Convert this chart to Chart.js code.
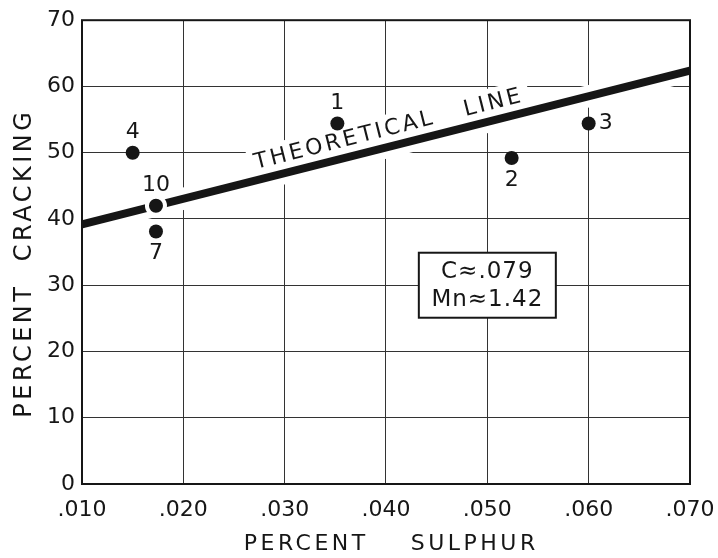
<!DOCTYPE html>
<html>
<head>
<meta charset="utf-8">
<script src="https://cdn.jsdelivr.net/npm/chart.js@4.4.1/dist/chart.umd.min.js"></script>
<style>
  html, body { margin: 0; padding: 0; background: #fff; }
</style>
</head>
<body>
<canvas id="chart" width="718" height="558"></canvas>
<script>
// sample points
const sampleNos = ['1', '2', '3', '4', '7', '10'];
const sulphur = [0.0352, 0.0524, 0.0600, 0.0150, 0.0173, 0.0173];
const cracking = [54.4, 49.2, 54.4, 50.0, 38.1, 42.0];

// theoretical line end points
const lineSulphur = [0.010, 0.070];
const lineCracking = [39.2, 62.4];

const xMin = 0.010, xMax = 0.070, xStep = 0.010;
const yMin = 0, yMax = 70, yStep = 10;
const noteLines = ['C\u2248.079', 'Mn\u22481.42'];
const noteAt = { x: 0.050, y: 30 };
const lineTextAt = 0.0407;
const lineText = 'THEORETICAL   LINE';

const ink = '#161616';
const face = '"DejaVu Sans", sans-serif';
// where each number sits relative to its dot
const labelSide = { '1': 'above', '2': 'below', '3': 'right', '4': 'above', '7': 'below', '10': 'above' };

// hand-lettered axis titles are spaced out; tick labels are not
const titleSpacing = {
  id: 'titleSpacing',
  beforeDraw(chart) { chart.ctx.letterSpacing = '3.5px'; },
  beforeDatasetsDraw(chart) { chart.ctx.letterSpacing = '0px'; }
};

// move the context onto the theoretical line, rotated along it
function alongLine(chart) {
  const { ctx, scales: { x, y } } = chart;
  const x0 = x.getPixelForValue(lineSulphur[0]), y0 = y.getPixelForValue(lineCracking[0]);
  const x1 = x.getPixelForValue(lineSulphur[1]), y1 = y.getPixelForValue(lineCracking[1]);
  const t = (lineTextAt - lineSulphur[0]) / (lineSulphur[1] - lineSulphur[0]);
  ctx.translate(x0 + (x1 - x0) * t, y0 + (y1 - y0) * t);
  ctx.rotate(Math.atan2(y1 - y0, x1 - x0));
  ctx.font = '22px ' + face;
  ctx.letterSpacing = '3px';
}

const annotations = {
  id: 'annotations',
  beforeDatasetsDraw(chart) {
    // clear the grid behind the lettering
    const { ctx } = chart;
    ctx.save();
    alongLine(chart);
    const w = ctx.measureText(lineText).width;
    ctx.fillStyle = '#fff';
    ctx.fillRect(-w / 2 - 6, -32, w + 12, 26);
    ctx.restore();
  },
  afterDatasetsDraw(chart) {
    const { ctx, chartArea: a, scales: { x, y } } = chart;

    // frame
    ctx.save();
    ctx.strokeStyle = ink;
    ctx.lineWidth = 2;
    ctx.strokeRect(a.left, a.top, a.right - a.left, a.bottom - a.top);
    ctx.restore();

    // THEORETICAL LINE lettering
    ctx.save();
    alongLine(chart);
    ctx.fillStyle = ink;
    ctx.textAlign = 'center';
    ctx.textBaseline = 'alphabetic';
    ctx.fillText(lineText, 0, -11);
    ctx.restore();

    // sample numbers
    ctx.save();
    ctx.font = '22px ' + face;
    ctx.fillStyle = ink;
    ctx.textBaseline = 'middle';
    sampleNos.forEach((n, i) => {
      const px = x.getPixelForValue(sulphur[i]);
      const py = y.getPixelForValue(cracking[i]);
      const side = labelSide[n];
      if (side === 'right') {
        ctx.textAlign = 'left';
        ctx.fillText(n, px + 10, py);
      } else {
        ctx.textAlign = 'center';
        ctx.fillText(n, px, side === 'above' ? py - 20 : py + 22);
      }
    });
    ctx.restore();

    // C / Mn box
    const bx = x.getPixelForValue(noteAt.x), by = y.getPixelForValue(noteAt.y);
    const bw = 137, bh = 65;
    ctx.save();
    ctx.fillStyle = '#fff';
    ctx.fillRect(bx - bw / 2, by - bh / 2, bw, bh);
    ctx.strokeStyle = ink;
    ctx.lineWidth = 2;
    ctx.strokeRect(bx - bw / 2, by - bh / 2, bw, bh);
    ctx.font = '23px ' + face;
    ctx.letterSpacing = '1px';
    ctx.fillStyle = ink;
    ctx.textAlign = 'center';
    ctx.textBaseline = 'middle';
    ctx.fillText(noteLines[0], bx, by - 13);
    ctx.fillText(noteLines[1], bx, by + 15);
    ctx.restore();
  }
};

const linePts = lineSulphur.map((s, i) => ({ x: s, y: lineCracking[i] }));

new Chart(document.getElementById('chart'), {
  type: 'scatter',
  data: {
    datasets: [
      {
        label: 'Samples',
        data: sulphur.map((s, i) => ({ x: s, y: cracking[i] })),
        pointBackgroundColor: ink,
        pointBorderColor: sampleNos.map(n => n === '10' ? '#fff' : ink),
        pointBorderWidth: sampleNos.map(n => n === '10' ? 4 : 0),
        pointRadius: sampleNos.map(n => n === '10' ? 9 : 7),
        order: 1
      },
      {
        type: 'line',
        label: 'Theoretical line',
        data: linePts,
        borderColor: ink,
        borderWidth: 8,
        pointRadius: 0,
        order: 2
      },
      {
        // white band so the grid breaks around the line
        type: 'line',
        label: 'halo',
        data: linePts,
        borderColor: '#fff',
        borderWidth: 22,
        pointRadius: 0,
        clip: 0,
        order: 3
      }
    ]
  },
  options: {
    responsive: false,
    animation: false,
    devicePixelRatio: 1,
    layout: { padding: { top: 13, right: 28, left: 0, bottom: 0 } },
    plugins: {
      legend: { display: false },
      tooltip: { enabled: false }
    },
    scales: {
      x: {
        type: 'linear',
        min: xMin,
        max: xMax,
        afterFit: s => { s.height = 74; s.paddingRight = 28; },
        grid: { color: '#333', lineWidth: 1, drawTicks: false },
        border: { display: false },
        ticks: {
          z: 1,
          stepSize: xStep,
          padding: 13,
          color: ink,
          font: { family: face, size: 22 },
          callback: v => v.toFixed(3).replace(/^0/, '')
        },
        title: {
          display: true,
          text: ' PERCENT    SULPHUR',
          color: ink,
          font: { family: face, size: 22 },
          padding: { top: 0, bottom: 1 }
        }
      },
      y: {
        min: yMin,
        max: yMax,
        afterFit: s => { s.width = 82; },
        grid: { color: '#333', lineWidth: 1, drawTicks: false },
        border: { display: false },
        ticks: {
          z: 1,
          stepSize: yStep,
          padding: 7,
          color: ink,
          font: { family: face, size: 22 }
        },
        title: {
          display: true,
          text: 'PERCENT  CRACKING  ',
          color: ink,
          font: { family: face, size: 24 },
          padding: { top: 10, bottom: 0 }
        }
      }
    }
  },
  plugins: [titleSpacing, annotations]
});
</script>
</body>
</html>
